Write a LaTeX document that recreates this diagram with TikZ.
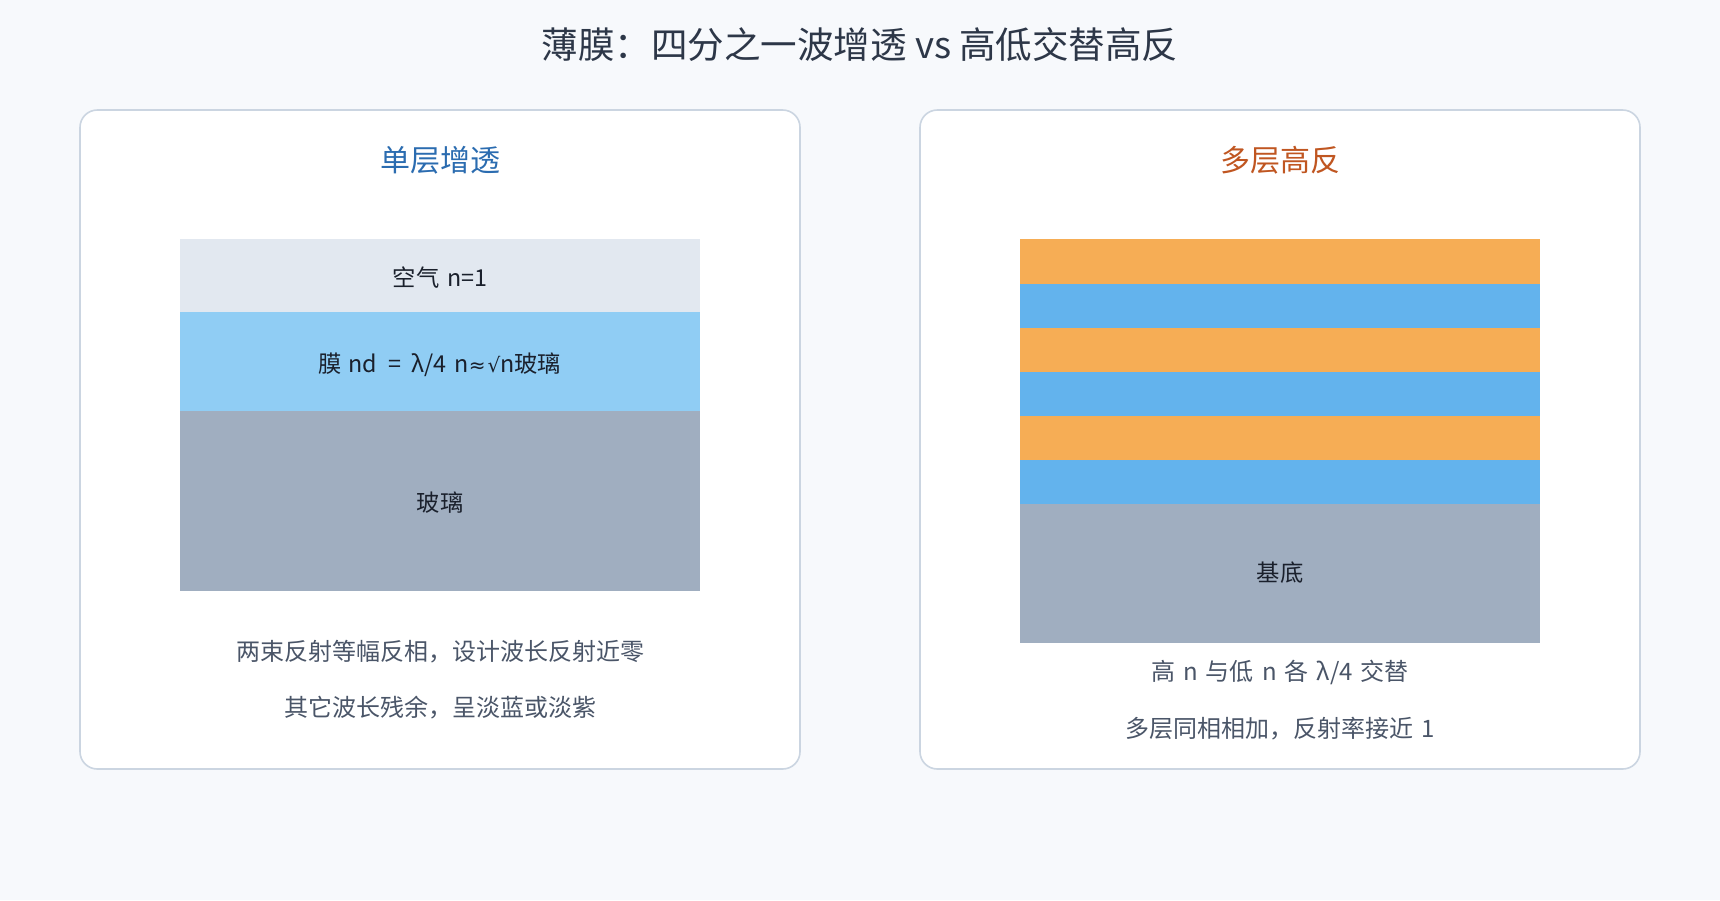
\documentclass[tikz,border=0pt]{standalone}
\usepackage{fontspec}
\setmainfont[WordSpace=1.5]{Noto Sans CJK SC}
\newfontfamily\titlefont{Noto Sans CJK SC}
\newfontfamily\symfont{DejaVu Sans}
\definecolor{bgc}{HTML}{F7F9FC}
\definecolor{cardline}{HTML}{CBD5E1}
\definecolor{titlec}{HTML}{2D3748}
\definecolor{bluet}{HTML}{2B6CB0}
\definecolor{oranget}{HTML}{C05621}
\definecolor{bodyc}{HTML}{4A5568}
\definecolor{labc}{HTML}{1A202C}
\definecolor{airc}{HTML}{E2E8F0}
\definecolor{filmc}{HTML}{90CDF4}
\definecolor{glassc}{HTML}{A0AEC0}
\definecolor{hic}{HTML}{F6AD55}
\definecolor{loc}{HTML}{63B3ED}
\tikzset{
  card/.style={draw=cardline, line width=1.2pt, fill=white, rounded corners=13pt},
  maintitle/.style={inner sep=0pt, text=titlec, font=\titlefont\fontsize{27.4}{32}\selectfont},
  cardtitle/.style={inner sep=0pt, font=\fontsize{22.5}{26}\selectfont},
  body/.style={inner sep=0pt, text=bodyc, font=\fontsize{18}{21}\selectfont},
  lab/.style={inner sep=0pt, text=labc, font=\fontsize{17.5}{20}\selectfont}
}
\begin{document}
\begin{tikzpicture}[x=0.75pt,y=-0.75pt]
\fill[bgc] (0,0) rectangle (1720,900);
\useasboundingbox (0,0) rectangle (1720,900);
\node[maintitle] (title) at (860,45) {薄膜：四分之一波增透 vs 高低交替高反};
% left card
\draw[card] (80,110) rectangle (800,769);
\node[cardtitle, text=bluet] (lt) at (440,160) {单层增透};
\fill[airc] (180,239) rectangle (700,312);
\fill[filmc] (180,312) rectangle (700,411);
\fill[glassc] (180,411) rectangle (700,591);
\node[lab] (air) at (440,278) {空气 n=1};
\node[lab] (film) at (440,365) {膜\hspace{5pt}nd\hspace{8pt}=\hspace{8pt}λ/4\hspace{6pt}n{\symfont\fontsize{15}{18}\selectfont ≈\hspace{1.5pt}√}n玻璃};
\node[lab] (glass) at (440,503) {玻璃};
\node[body] (l1) at (440,652) {两束反射等幅反相，设计波长反射近零};
\node[body] (l2) at (440,708) {其它波长残余，呈淡蓝或淡紫};
% right card
\draw[card] (920,110) rectangle (1640,769);
\node[cardtitle, text=oranget] (rt) at (1280,160) {多层高反};
\fill[hic] (1020,239) rectangle (1540,284);
\fill[loc] (1020,284) rectangle (1540,328);
\fill[hic] (1020,328) rectangle (1540,372);
\fill[loc] (1020,372) rectangle (1540,416);
\fill[hic] (1020,416) rectangle (1540,460);
\fill[loc] (1020,460) rectangle (1540,504);
\fill[glassc] (1020,504) rectangle (1540,643);
\node[lab] (sub) at (1280,573) {基底};
\node[body] (r1) at (1280,672) {高 n 与低 n 各 λ/4 交替};
\node[body] (r2) at (1280,729) {多层同相相加，反射率接近 1};
\end{tikzpicture}
\end{document}
